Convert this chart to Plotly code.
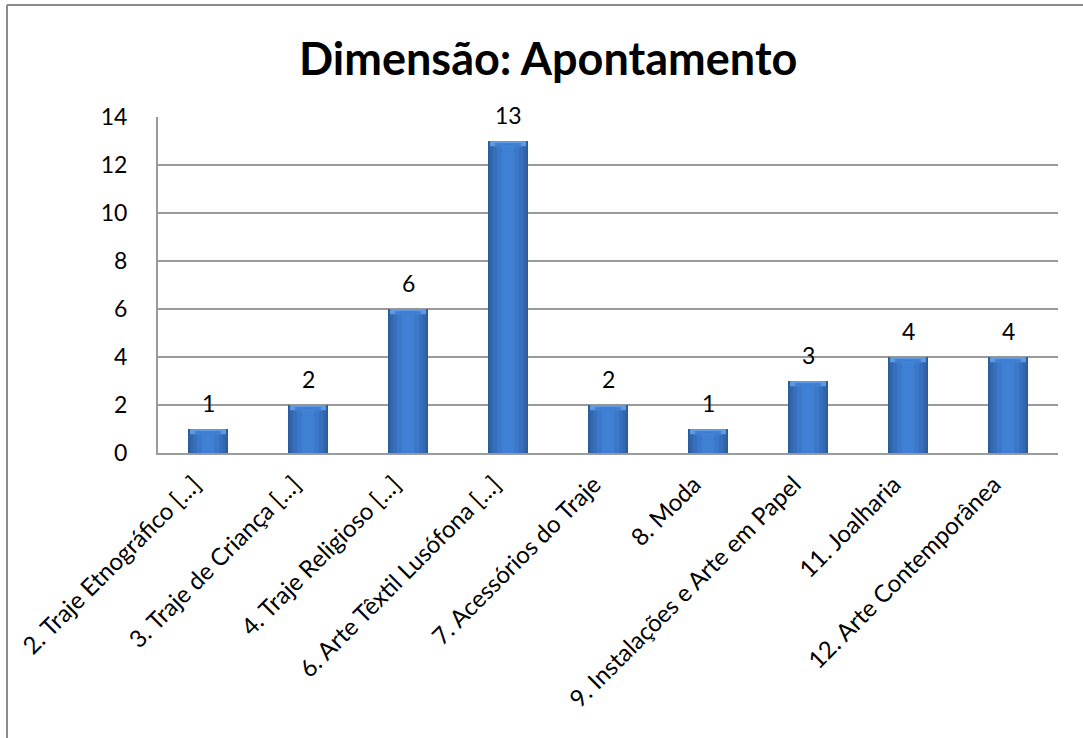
import plotly.graph_objects as go

# Chart data
categories = [
    "2. Traje Etnográfico [...]",
    "3. Traje de Criança [...]",
    "4. Traje Religioso [...]",
    "6. Arte Têxtil Lusófona [...]",
    "7. Acessórios do Traje",
    "8. Moda",
    "9. Instalações e Arte em Papel",
    "11. Joalharia",
    "12. Arte Contemporânea",
]
values = [1, 2, 6, 13, 2, 1, 3, 4, 4]
y_ticks = [0, 2, 4, 6, 8, 10, 12, 14]

FONT = "Lato"
TXT = 23

fig = go.Figure()

# Shaded bar body: stacked widths from dark edges to a lighter centre
layers = [
    (0.40, "#2B5C9C"),
    (0.36, "#3166AD"),
    (0.30, "#376FBC"),
    (0.22, "#3C78C9"),
    (0.12, "#4181D5"),
]
for w, c in layers:
    fig.add_trace(go.Bar(
        x=categories, y=values, width=w,
        marker=dict(color=c, line=dict(width=0)),
        hoverinfo="skip", showlegend=False,
    ))

# Lighter bevel strip along the top of each bar
cap = 0.22
fig.add_trace(go.Bar(
    x=categories, y=[cap] * len(values), base=[v - cap for v in values],
    width=0.36, marker=dict(color="#5E9BE2", line=dict(width=0)),
    hoverinfo="skip", showlegend=False,
))
fig.add_trace(go.Bar(
    x=categories, y=[cap * 0.6] * len(values), base=[v - cap for v in values],
    width=0.26, marker=dict(color="#3F7ED3", line=dict(width=0)),
    hoverinfo="skip", showlegend=False,
))

# Value labels above each bar
value_labels = [
    dict(x=c, y=v, xref="x", yref="y", text=str(v), showarrow=False,
         yanchor="middle", yshift=26,
         font=dict(family=FONT, size=TXT, color="#000000"))
    for c, v in zip(categories, values)
]

fig.update_layout(
    width=1083, height=738,
    margin=dict(l=158, r=25, t=117, b=285),
    paper_bgcolor="white", plot_bgcolor="white",
    barmode="overlay",
    font=dict(family=FONT, size=TXT, color="#000000"),
    xaxis=dict(
        tickangle=-45, showgrid=False, showline=True,
        linecolor="#9A9A9A", linewidth=2,
        tickfont=dict(family=FONT, size=24),
        ticks="", ticklabelstandoff=6, ticklabelshift=-14,
    ),
    yaxis=dict(
        range=[0, 14], tickvals=y_ticks, showgrid=True,
        gridcolor="#9A9A9A", gridwidth=1.5,
        showline=True, linecolor="#9A9A9A", linewidth=2,
        zeroline=False, ticks="", ticklabelstandoff=24,
        tickfont=dict(family=FONT, size=TXT),
    ),
    annotations=value_labels + [dict(
        text="<b>Dimensão: Apontamento</b>", xref="paper", yref="paper",
        x=(548 - 158) / 900, y=1 + (117 - 58) / 336, xanchor="center", yanchor="middle",
        showarrow=False, font=dict(family=FONT, size=45, color="#000000"),
    )],
    shapes=[
        dict(type="line", xref="paper", yref="paper",
             x0=(7 - 158) / 900, x1=(1083 - 158) / 900,
             y0=1 + (117 - 5) / 336, y1=1 + (117 - 5) / 336,
             line=dict(color="#8C8C8C", width=2)),
        dict(type="line", xref="paper", yref="paper",
             x0=(7 - 158) / 900, x1=(7 - 158) / 900,
             y0=1 + (117 - 5) / 336, y1=-(738 - 453) / 336,
             line=dict(color="#8C8C8C", width=2)),
    ],
)

fig.write_html("out.html")
